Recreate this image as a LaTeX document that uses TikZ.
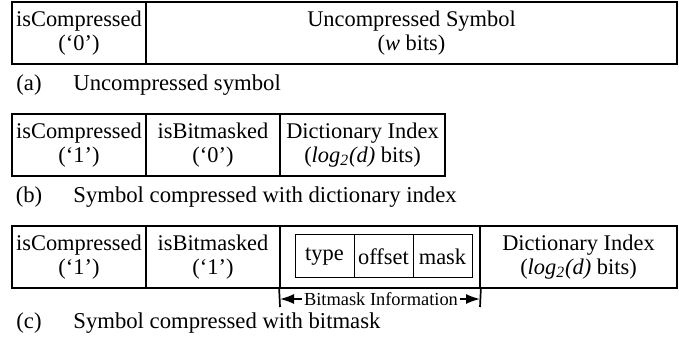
\documentclass[tikz,border=0pt]{standalone}
\usepackage{fontspec}
\setmainfont{Liberation Serif}
\usetikzlibrary{arrows.meta}

\tikzset{
  cell/.style={draw, line width=0.85pt, inner sep=0pt, minimum height=31pt, align=center, font=\fontsize{11.2}{12.2}\selectfont},
  subcell/.style={draw, line width=0.5pt, inner sep=0pt, minimum height=21.5pt, minimum width=29.5pt, font=\fontsize{11.2}{12}\selectfont},
  caption/.style={inner sep=0pt, font=\fontsize{11.35}{12}\selectfont},
  bmlabel/.style={fill=white, inner sep=0.8pt, font=\fontsize{9.2}{10}\selectfont},
  bmarrow/.style={-{Latex[length=7pt,width=5pt]}, line width=0.8pt}
}

\begin{document}
\begin{tikzpicture}[x=0.5pt, y=-0.5pt]
	\useasboundingbox (0,0) rectangle (679,346);
	
	% (a) uncompressed
	\node[cell, minimum width=67pt] (a1) at (79, 33) {isCompressed\\(‘0’)};
	\node[cell, minimum width=265.5pt] (a2) at (411.5, 33) {Uncompressed Symbol\\(\textit{w} bits)};
	\node[caption] (acap) at (29, 85) {(a)};
	\node[caption, anchor=west] (atxt) at (73, 85) {Uncompressed symbol};
	
	% (b) dictionary
	\node[cell, minimum width=67pt] (b1) at (79, 145) {isCompressed\\(‘1’)};
	\node[cell, minimum width=67pt] (b2) at (213, 145) {isBitmasked\\(‘0’)};
	\node[cell, minimum width=82.5pt] (b3) at (362.5, 145) {Dictionary Index\\(\textit{log\textsubscript{2}(d)} bits)};
	\node[caption] (bcap) at (29, 197) {(b)};
	\node[caption, anchor=west] (btxt) at (73, 197) {Symbol compressed with dictionary index};
	
	% (c) bitmask
	\node[cell, minimum width=67pt] (c1) at (79, 257) {isCompressed\\(‘1’)};
	\node[cell, minimum width=67pt] (c2) at (213, 257) {isBitmasked\\(‘1’)};
	\node[cell, minimum width=100pt] (c3) at (380, 257) {};
	\node[cell, minimum width=98.5pt] (c4) at (578.5, 257) {Dictionary Index\\(\textit{log\textsubscript{2}(d)} bits)};
	\node[subcell] (type) at (324.5, 256.5) {type};
	\node[subcell] (offset) at (383.5, 256.5) {offset};
	\node[subcell] (mask) at (442.5, 256.5) {mask};
	
	\coordinate (tl) at (280, 307);
	\coordinate (tr) at (480, 307);
	\draw[line width=0.85pt] (c3.south west) -- (tl);
	\draw[line width=0.85pt] (c3.south east) -- (tr);
	\node[bmlabel] (bm) at (381, 299) {Bitmask Information};
	\draw[bmarrow] (bm.west) -- (bm.west -| tl);
	\draw[bmarrow] (bm.east) -- (bm.east -| tr);
	
	\node[caption] (ccap) at (29, 323) {(c)};
	\node[caption, anchor=west] (ctxt) at (73, 323) {Symbol compressed with bitmask};
	
\end{tikzpicture}
\end{document}
